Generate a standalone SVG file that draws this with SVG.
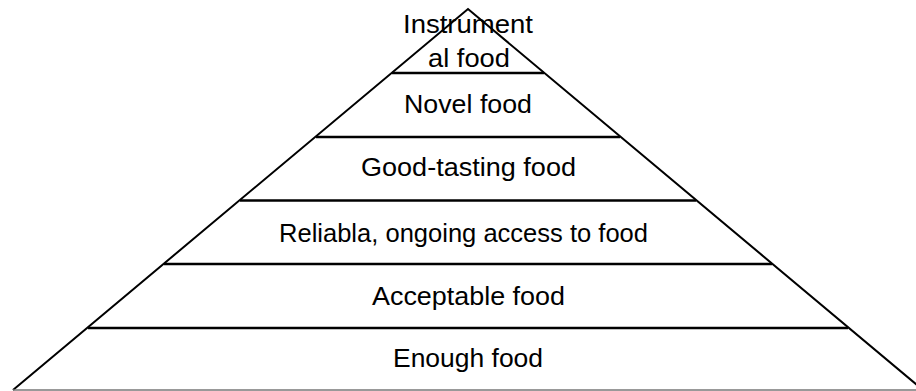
<svg xmlns="http://www.w3.org/2000/svg" width="916" height="391" viewBox="0 0 916 391">
<style>
.side{stroke:#000;stroke-width:2;fill:none}
.div{stroke:#000;stroke-width:2.5}
.base{stroke:#777;stroke-width:1.5}
text{font-family:"Liberation Sans","Open Sans",sans-serif;font-size:26px;fill:#000;text-anchor:middle}
</style>
<rect width="916" height="391" fill="#fff"/>
<g id="connectors">
<polyline class="side" points="13,390 468,9 923,390"/>
<line class="base" x1="13" y1="390" x2="916" y2="390"/>
<line class="div" x1="392" y1="73" x2="544" y2="73"/>
<line class="div" x1="316" y1="137" x2="620" y2="137"/>
<line class="div" x1="240" y1="200.5" x2="696" y2="200.5"/>
<line class="div" x1="164" y1="264" x2="772" y2="264"/>
<line class="div" x1="88" y1="328" x2="848" y2="328"/>
</g>
<g id="level6"><text x="468" y="33" textLength="130" lengthAdjust="spacingAndGlyphs">Instrument</text><text x="469" y="67" textLength="82" lengthAdjust="spacingAndGlyphs">al food</text></g>
<g id="level5"><text x="468" y="113" textLength="128" lengthAdjust="spacingAndGlyphs">Novel food</text></g>
<g id="level4"><text x="468.5" y="176" textLength="215" lengthAdjust="spacingAndGlyphs">Good-tasting food</text></g>
<g id="level3"><text x="463.5" y="242" textLength="369" lengthAdjust="spacingAndGlyphs">Reliabla, ongoing access to food</text></g>
<g id="level2"><text x="468.5" y="305" textLength="193" lengthAdjust="spacingAndGlyphs">Acceptable food</text></g>
<g id="level1"><text x="468" y="367" textLength="150" lengthAdjust="spacingAndGlyphs">Enough food</text></g>
</svg>
